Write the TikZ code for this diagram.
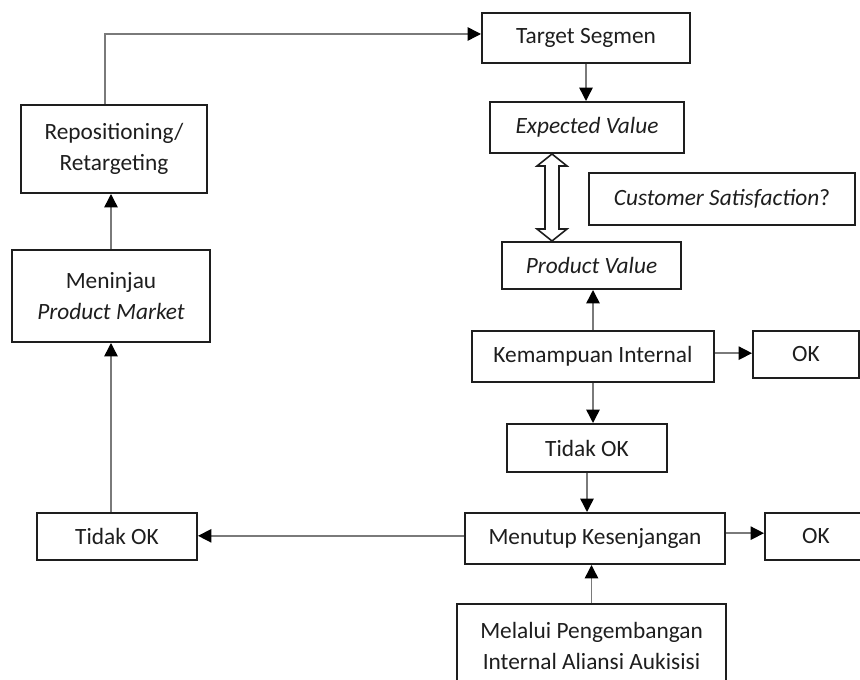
\documentclass[tikz,border=0pt]{standalone}
\usepackage{fontspec}
\setmainfont{Carlito}
\usetikzlibrary{arrows.meta,calc}
\definecolor{linegray}{HTML}{7A7A7A}
\definecolor{ink}{HTML}{1E1E1E}
\begin{document}
\begin{tikzpicture}[x=0.75pt,y=-0.75pt,
  box/.style args={#1/#2}{draw=ink,line width=1.5pt,fill=white,
    minimum width=#1*0.75pt,minimum height=#2*0.75pt,inner sep=0pt,
    align=center,text=ink,font=\fontsize{17.5}{23}\selectfont},
  link/.style={draw=linegray,line width=1.1pt,
    -{Triangle[length=10pt,width=10pt,color=black]}},
  hollow/.style={draw=ink,line width=1.2pt,fill=white,line join=miter}]
\useasboundingbox (0,0) rectangle (860,680);
\clip (0,0) rectangle (860,680);

% left column
\node[box=186/88] (rep) at (114,149) {Repositioning/\\Retargeting};
\node[box=198/92] (mpm) at (111,296) {Meninjau\\\textit{Product Market}};
\node[box=160/47] (tok1) at (117,536.5) {Tidak OK};

% right column
\node[box=208/50] (ts) at (586,38) {Target Segmen};
\node[box=194/51] (ev) at (587,127.5) {\textit{Expected Value}};
\node[box=266/52] (cs) at (722,199) {\textit{Customer Satisfaction}?};
\node[box=179/47] (pv) at (591.5,265.5) {\textit{Product Value}};
\node[box=242/51] (ki) at (593,356.5) {Kemampuan Internal};
\node[box=106/47] (ok1) at (806,354.5) {OK};
\node[box=160/48] (tok2) at (587,448) {Tidak OK};
\node[box=260/51] (mk) at (595,538.5) {Menutup Kesenjangan};
\node[box=110/47] (ok2) at (820,536.5) {\hspace*{-6pt}OK};
\node[box=269/84] (mel) at (591.5,646) {Melalui Pengembangan\\Internal Aliansi Aukisisi};

% connectors
\draw[link] ([xshift=-6.75pt]rep.north) |- ([yshift=3pt]ts.west);
\draw[link] (mpm.north) -- (mpm.north |- rep.south);
\draw[link] (tok1.north -| mpm.south) -- (mpm.south);
\draw[link] ([yshift=2pt]mk.west) -- ([yshift=2pt]mk.west -| tok1.east);
\draw[link] (ts.south) -- (ts.south |- ev.north);
\draw[link] (ki.north) -- (ki.north |- pv.south);
\draw[link] ([yshift=2.5pt]ki.east) -- ([yshift=2.5pt]ki.east -| ok1.west);
\draw[link] (ki.south) -- (ki.south |- tok2.north);
\draw[link] (tok2.south) -- (tok2.south |- mk.north);
\draw[link] ([yshift=4pt]mk.east) -- ([yshift=4pt]mk.east -| ok2.west);
\draw[link] (mel.north) -- (mel.north |- mk.south);

% hollow two-way arrow between expected and product value
\coordinate (dx) at (552,0);
\coordinate (dt) at (dx |- ev.south);
\coordinate (db) at (dx |- pv.north);
\draw[hollow] (dt) -- ++(15,12) -- ++(-8,0) -- ($(db)+(7,-12)$) -- ++(8,0)
  -- (db) -- ++(-15,-12) -- ++(8,0) -- ($(dt)+(-7,12)$) -- ++(-8,0) -- cycle;
\end{tikzpicture}
\end{document}
